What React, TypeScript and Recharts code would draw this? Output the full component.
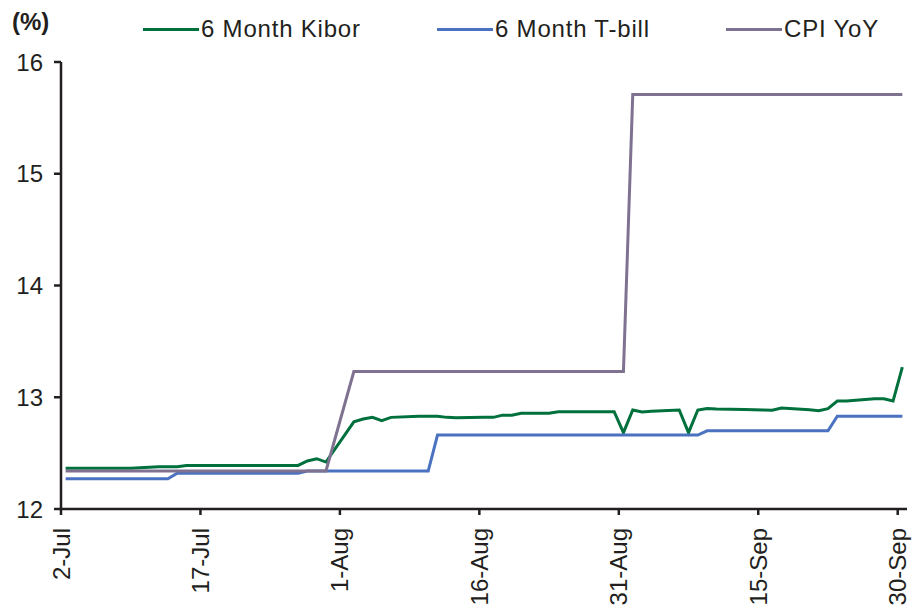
import React from 'react';
import { LineChart, Line, XAxis, YAxis, Legend } from 'recharts';

// business days, as offsets from 2-Jul
const days = [
  0, 3, 4, 5, 6, 7, 10, 11, 12, 13, 14, 17, 18, 19, 20, 21, 24, 25, 26, 27, 28,
  31, 32, 33, 34, 35, 38, 39, 40, 41, 42, 45, 46, 47, 48, 49, 52, 53, 54, 55, 56, 59, 60,
  61, 62, 63, 66, 67, 68, 69, 70, 73, 74, 75, 76, 77, 80, 81, 82, 83, 84, 87, 88, 89, 90,
];

const kibor = [
  12.364, 12.364, 12.364, 12.364, 12.364, 12.364, 12.378, 12.378, 12.378, 12.39, 12.39, 12.39, 12.39, 12.39, 12.39, 12.39, 12.39, 12.39, 12.43, 12.45, 12.42,
  12.78, 12.805, 12.82, 12.79, 12.82, 12.83, 12.83, 12.83, 12.82, 12.817, 12.82, 12.82, 12.84, 12.84, 12.856, 12.856, 12.871, 12.871, 12.871, 12.871, 12.871, 12.683,
  12.886, 12.868, 12.875, 12.886, 12.683, 12.886, 12.9, 12.895, 12.89, 12.888, 12.885, 12.883, 12.904, 12.888, 12.88, 12.898, 12.966, 12.966, 12.987, 12.987, 12.966, 13.27,
];

const tbill = [
  12.27, 12.27, 12.27, 12.27, 12.27, 12.27, 12.27, 12.27, 12.32, 12.32, 12.32, 12.32, 12.32, 12.32, 12.32, 12.32, 12.32, 12.32, 12.34, 12.34, 12.34,
  12.34, 12.34, 12.34, 12.34, 12.34, 12.34, 12.34, 12.662, 12.662, 12.662, 12.662, 12.662, 12.662, 12.662, 12.662, 12.662, 12.662, 12.662, 12.662, 12.662, 12.662, 12.662,
  12.662, 12.662, 12.662, 12.662, 12.662, 12.662, 12.7, 12.7, 12.7, 12.7, 12.7, 12.7, 12.7, 12.7, 12.7, 12.7, 12.83, 12.83, 12.83, 12.83, 12.83, 12.83,
];

const cpi = [
  12.34, 12.34, 12.34, 12.34, 12.34, 12.34, 12.34, 12.34, 12.34, 12.34, 12.34, 12.34, 12.34, 12.34, 12.34, 12.34, 12.34, 12.34, 12.34, 12.34, 12.34,
  13.23, 13.23, 13.23, 13.23, 13.23, 13.23, 13.23, 13.23, 13.23, 13.23, 13.23, 13.23, 13.23, 13.23, 13.23, 13.23, 13.23, 13.23, 13.23, 13.23, 13.23, 13.23,
  15.71, 15.71, 15.71, 15.71, 15.71, 15.71, 15.71, 15.71, 15.71, 15.71, 15.71, 15.71, 15.71, 15.71, 15.71, 15.71, 15.71, 15.71, 15.71, 15.71, 15.71, 15.71,
];

const tickDays = [0, 15, 30, 45, 60, 75, 90];
const tickLabels = ['2-Jul', '17-Jul', '1-Aug', '16-Aug', '31-Aug', '15-Sep', '30-Sep'];
const yTicks = [12, 13, 14, 15, 16];

const seriesNames = ['6 Month Kibor', '6 Month T-bill', 'CPI YoY'];

const FONT = '"Liberation Sans", Arial, Helvetica, sans-serif';
const INK = '#231f20';

const series = [
  { key: 'kibor', name: seriesNames[0], color: '#00703c' },
  { key: 'tbill', name: seriesNames[1], color: '#4a72c0' },
  { key: 'cpi', name: seriesNames[2], color: '#7f7290' },
];

// date axis with points in the middle of each day's slot (ticks sit on slot edges)
const data = days.map((day, i) => ({ pos: day + 0.5, kibor: kibor[i], tbill: tbill[i], cpi: cpi[i] }));

function DateTick(props: any) {
  const { x, y, payload } = props;
  const label = tickLabels[tickDays.indexOf(payload.value)];
  return (
    <text
      transform={`translate(${x},${y + 13}) rotate(-90)`}
      textAnchor="end"
      dominantBaseline="central"
      fontSize={24}
      fontFamily={FONT}
      fill={INK}
    >
      {label}
    </text>
  );
}

const legendLeft = [143, 437, 726];

function LegendRow() {
  return (
    <div style={{ position: 'relative', width: 916, height: 50, fontFamily: FONT, fontSize: 24, color: INK }}>
      {series.map((s, i) => (
        <div
          key={s.key}
          style={{
            position: 'absolute',
            left: legendLeft[i],
            top: 15,
            display: 'flex',
            alignItems: 'center',
            whiteSpace: 'nowrap',
            lineHeight: '28px',
            letterSpacing: 0.8,
          }}
        >
          <span style={{ display: 'inline-block', width: 56, height: 3, background: s.color, marginRight: 2 }} />
          <span>{s.name}</span>
        </div>
      ))}
    </div>
  );
}

export default function App() {
  return (
    <div style={{ position: 'absolute', left: 0, top: 0, width: 916, height: 613, background: '#fff' }}>
      <div style={{ position: 'absolute', left: 12, top: 8, fontFamily: FONT, fontSize: 24, fontWeight: 'bold', color: INK, lineHeight: '28px' }}>
        (%)
      </div>
      <LineChart width={916} height={613} data={data} margin={{ top: 62, right: 9, bottom: 0, left: 0 }}>
        <XAxis
          dataKey="pos"
          type="number"
          domain={[0, 91]}
          ticks={tickDays}
          interval={0}
          height={104}
          tickSize={6}
          tickMargin={0}
          axisLine={{ stroke: INK, strokeWidth: 2.5 }}
          tickLine={{ stroke: INK, strokeWidth: 2.5 }}
          tick={<DateTick />}
        />
        <YAxis
          domain={[12, 16]}
          ticks={yTicks}
          width={61}
          tickSize={7}
          tickMargin={11}
          axisLine={{ stroke: INK, strokeWidth: 2.5 }}
          tickLine={{ stroke: INK, strokeWidth: 2.5 }}
          tick={{ fontSize: 24, fill: INK, fontFamily: FONT }}
        />
        <Legend
          verticalAlign="middle"
          layout="horizontal"
          content={<LegendRow />}
          wrapperStyle={{ position: 'absolute', top: 0, left: 0, width: 916 }}
        />
        {series.map((s) => (
          <Line
            key={s.key}
            type="linear"
            dataKey={s.key}
            name={s.name}
            stroke={s.color}
            strokeWidth={3}
            dot={false}
            isAnimationActive={false}
          />
        ))}
      </LineChart>
    </div>
  );
}
